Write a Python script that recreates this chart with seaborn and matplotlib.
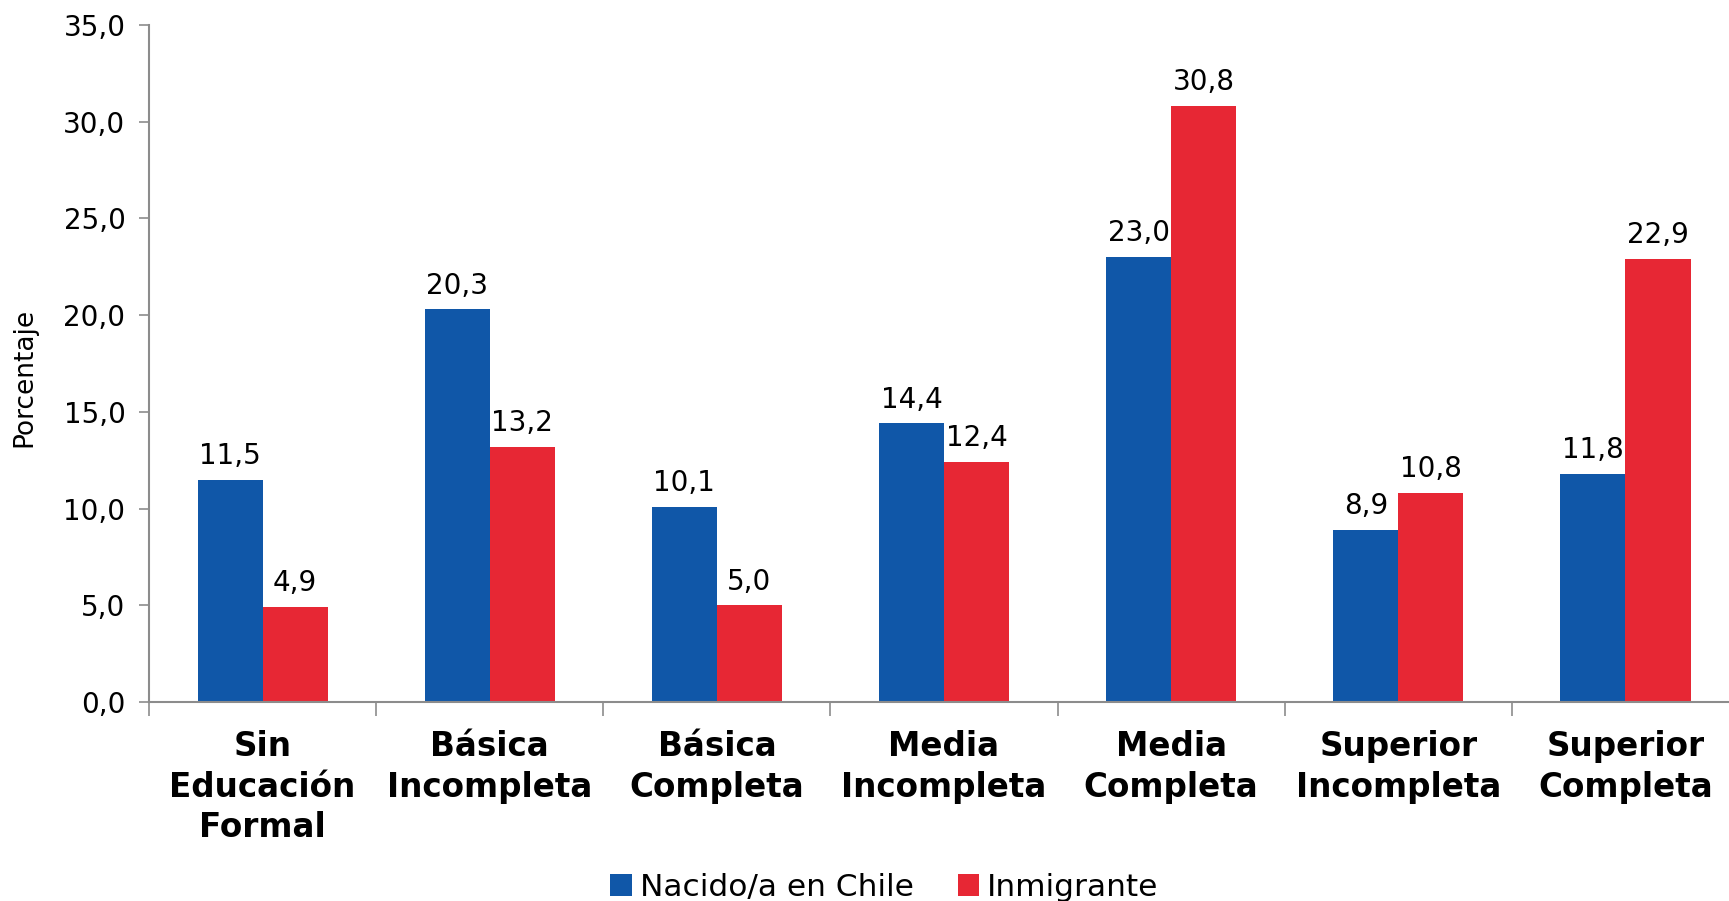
import pandas as pd
import numpy as np
import matplotlib
matplotlib.use("Agg")
import matplotlib.pyplot as plt
import seaborn as sns
from matplotlib.patches import Patch
from matplotlib.ticker import FixedLocator, FuncFormatter

# Datos del grafico
categorias = ["Sin\nEducación\nFormal", "Básica\nIncompleta", "Básica\nCompleta",
              "Media\nIncompleta", "Media\nCompleta", "Superior\nIncompleta",
              "Superior\nCompleta"]
series = ["Nacido/a en Chile", "Inmigrante"]
nacido_chile = [11.5, 20.3, 10.1, 14.4, 23.0, 8.9, 11.8]
inmigrante = [4.9, 13.2, 5.0, 12.4, 30.8, 10.8, 22.9]
colores = ["#1057A8", "#E72734"]

df = pd.DataFrame({
    "categoria": categorias * 2,
    "grupo": [series[0]] * len(categorias) + [series[1]] * len(categorias),
    "valor": nacido_chile + inmigrante,
})

sns.set_style("white")
plt.rcParams["font.family"] = ["DejaVu Sans"]
plt.rcParams["text.color"] = "black"

fig = plt.figure(figsize=(17.29, 9.01), dpi=100)
ax = fig.add_axes([0.0862, 0.2209, 0.9196, 0.7514])

sns.barplot(data=df, x="categoria", y="valor", hue="grupo", order=categorias,
            hue_order=series, palette=colores, width=0.573, saturation=1,
            linewidth=0, ax=ax, legend=False)

# Etiquetas de valores sobre las barras
for cont in ax.containers:
    etiquetas = [f"{b.get_height():.1f}".replace(".", ",") for b in cont]
    ax.bar_label(cont, labels=etiquetas, padding=7, fontsize=20, color="black")

ax.set_ylim(0, 35)
ax.set_xlim(-0.5, 6.5)
ax.set_yticks(np.arange(0, 36, 5))
ax.yaxis.set_major_formatter(FuncFormatter(lambda v, p: f"{v:.1f}".replace(".", ",")))
ax.tick_params(axis="y", labelsize=20, length=7, color="#8c8c8c", width=1.2,
               left=True, pad=10, labelcolor="black")
ax.tick_params(axis="x", which="major", length=0, labelsize=23.5, pad=20, labelcolor="black")
ax.xaxis.set_minor_locator(FixedLocator(np.arange(-0.5, 6.0, 1.0)))
ax.tick_params(axis="x", which="minor", length=10, color="#8c8c8c", width=1.2, bottom=True)
for lab in ax.get_xticklabels():
    lab.set_fontweight("bold")
    lab.set_linespacing(1.3)

ax.set_xlabel("")
ax.set_ylabel("Porcentaje", fontsize=19, color="black")
ax.yaxis.set_label_coords(-0.070, 0.479)

for lado in ["top", "right"]:
    ax.spines[lado].set_visible(False)
for lado in ["left", "bottom"]:
    ax.spines[lado].set_color("#8c8c8c")
    ax.spines[lado].set_linewidth(1.5)

handles = [Patch(facecolor=c, edgecolor="none") for c in colores]
fig.legend(handles, series, loc="center", bbox_to_anchor=(0.5115, 0.015), ncol=2,
           frameon=False, fontsize=22.5, handlelength=0.7, handleheight=0.7,
           handletextpad=0.25, columnspacing=1.4)

fig.savefig("out.png", dpi=100)
